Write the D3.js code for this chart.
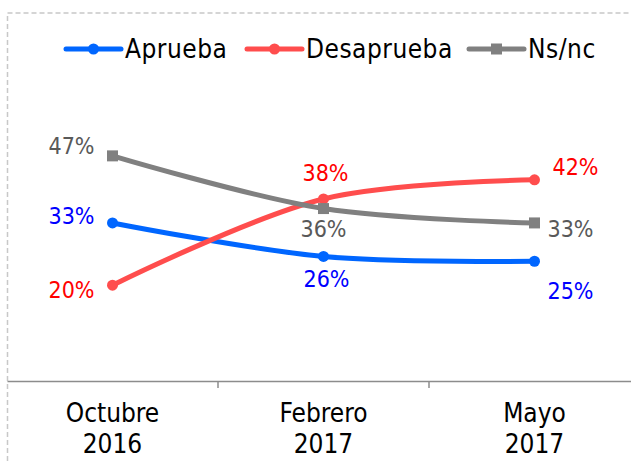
<!DOCTYPE html>
<html>
<head>
<meta charset="utf-8">
<script src="https://cdn.jsdelivr.net/npm/d3@7"></script>
<style>
  html, body { margin: 0; padding: 0; background: #fff; }
  svg { display: block; font-family: "DejaVu Sans Condensed", "DejaVu Sans", sans-serif; }
</style>
</head>
<body>
<svg id="chart" width="631" height="462"></svg>
<script>
// ---- data ----
const categories = [["Octubre", "2016"], ["Febrero", "2017"], ["Mayo", "2017"]];
const seriesNames = ["Aprueba", "Desaprueba", "Ns/nc"];
const aprueba = [33, 26, 25];
const desaprueba = [20, 38, 42];
const nsnc = [47, 36, 33];

// ---- styling / placement config ----
const lineColors = ["#0066ff", "#ff4d4d", "#808080"];
const labelColors = ["#0000ff", "#ff0000", "#595959"];
const markerShapes = ["circle", "circle", "square"];
// label centre offsets relative to the point [dx, dy]
const labelOffsets = [
  [[-41, -7], [3, 22], [36, 29]],
  [[-41, 4], [2, -26], [41, -13]],
  [[-41, -10], [0, 20], [36, 6]]
];
const legendX = [66, 247, 469];

const series = [aprueba, desaprueba, nsnc].map((vals, i) => ({
  name: seriesNames[i], values: vals, idx: i
}));

const svg = d3.select("#chart");

// dashed outer border
svg.append("rect")
  .attr("x", 7.5).attr("y", 13)
  .attr("width", 700).attr("height", 600)
  .attr("fill", "none")
  .attr("stroke", "#c8c8c8")
  .attr("stroke-width", 1.5)
  .attr("stroke-dasharray", "5,3");

const keys = categories.map(c => c.join(" "));
const x = d3.scaleBand().domain(keys).range([7, 640]);
const y = d3.scaleLinear().domain([0, 60]).range([381, 381 - 4.79 * 60]);
const cx = i => x(keys[i]) + x.bandwidth() / 2;

// axis
const axis = d3.axisBottom(x).tickSize(0).tickFormat("");
const ag = svg.append("g").attr("transform", "translate(0,381)").call(axis);
ag.select(".domain").attr("stroke", "#8c8c8c").attr("stroke-width", 1.5);
ag.selectAll(".bnd").data(keys.slice(1)).enter().append("line")
  .attr("x1", d => x(d)).attr("x2", d => x(d))
  .attr("y1", 0).attr("y2", 7)
  .attr("stroke", "#8c8c8c").attr("stroke-width", 1.5);
const cl = svg.append("g").selectAll("text").data(categories).enter().append("text")
  .attr("text-anchor", "middle")
  .attr("font-size", 26)
  .attr("fill", "#000");
cl.append("tspan").attr("x", (d, i) => cx(i)).attr("y", 422).text(d => d[0]);
cl.append("tspan").attr("x", (d, i) => cx(i)).attr("y", 453).text(d => d[1]);

// lines
const line = d3.line()
  .x((d, i) => cx(i))
  .y(d => y(d))
  .curve(d3.curveCatmullRom.alpha(0.5));

const sg = svg.append("g").selectAll("g").data(series).enter().append("g");
sg.append("path")
  .attr("d", d => line(d.values))
  .attr("fill", "none")
  .attr("stroke", d => lineColors[d.idx])
  .attr("stroke-width", 5)
  .attr("stroke-linecap", "round");

function drawMarker(sel, shape, color) {
  if (shape === "circle") {
    sel.append("circle").attr("r", 5.5).attr("fill", color);
  } else {
    sel.append("rect").attr("x", -5.5).attr("y", -5.5).attr("width", 11).attr("height", 11).attr("fill", color);
  }
}

sg.each(function(s) {
  const g = d3.select(this);
  s.values.forEach((v, i) => {
    const m = g.append("g").attr("transform", `translate(${cx(i)},${y(v)})`);
    drawMarker(m, markerShapes[s.idx], lineColors[s.idx]);
  });
  g.selectAll("text.lbl").data(s.values).enter().append("text")
    .attr("class", "lbl")
    .attr("text-anchor", "middle")
    .attr("font-size", 23)
    .attr("fill", labelColors[s.idx])
    .attr("x", (v, i) => cx(i) + labelOffsets[s.idx][i][0])
    .attr("y", (v, i) => y(v) + labelOffsets[s.idx][i][1] + 8.5)
    .text(v => v + "%");
});

// legend
const lg = svg.append("g");
series.forEach((s, k) => {
  const g = lg.append("g").attr("transform", `translate(${legendX[k]},49)`);
  g.append("line").attr("x1", 0).attr("x2", 55).attr("y1", 0).attr("y2", 0)
    .attr("stroke", lineColors[s.idx]).attr("stroke-width", 5).attr("stroke-linecap", "round");
  const m = g.append("g").attr("transform", "translate(27.5,0)");
  drawMarker(m, markerShapes[s.idx], lineColors[s.idx]);
  g.append("text").attr("x", 59).attr("y", 9)
    .attr("font-size", 26).attr("letter-spacing", 0.5)
    .attr("fill", "#000").text(s.name);
});
</script>
</body>
</html>
